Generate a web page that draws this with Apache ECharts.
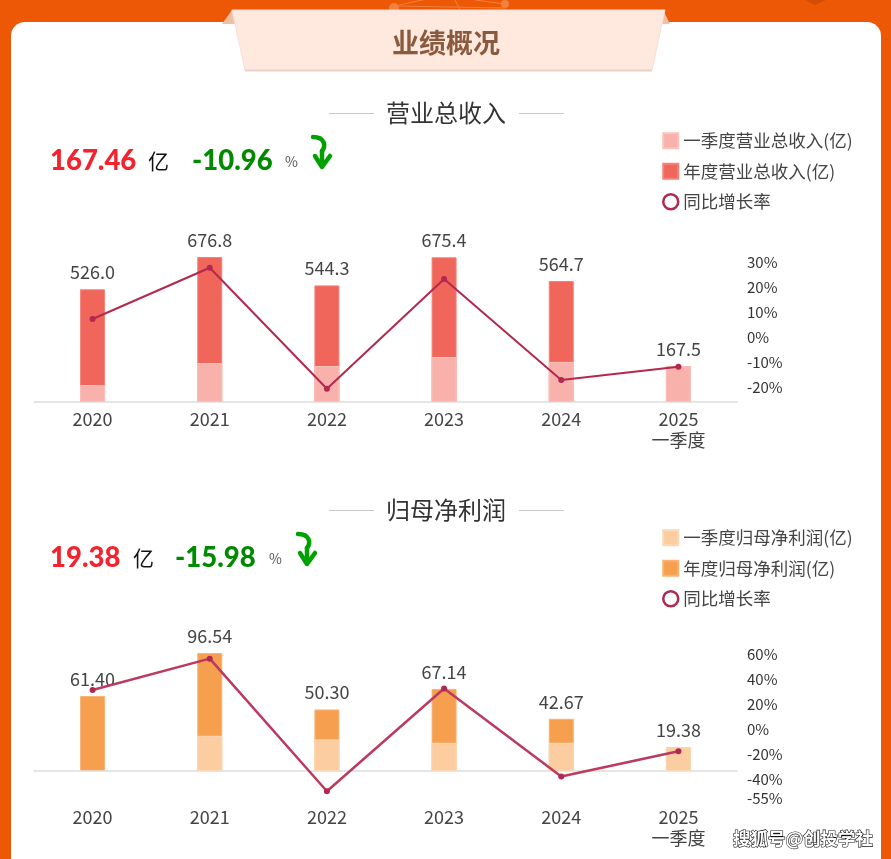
<!DOCTYPE html>
<html><head><meta charset="utf-8">
<style>html,body{margin:0;padding:0;background:#EC5805}#c{width:891px;height:859px}</style>
<script src="https://cdn.jsdelivr.net/npm/echarts@6/dist/echarts.min.js"></script>
</head><body><div id="c"></div>
<script>
const categories = ['2020','2021','2022','2023','2024','2025\n一季度'];
const revAnnual = [526.0,676.8,544.3,675.4,564.7,167.5];
const revQ1 = [79,182,168,210,187,167.5];
const revGrowth = [7.2,27.7,-20.7,23.2,-17.2,-11.9];
const revTicks = [30,20,10,0,-10,-20];
const profitAnnual = [61.40,96.54,50.30,67.14,42.67,19.38];
const profitQ1 = [null,28.7,25.8,23,23,19.38];
const profitGrowth = [31.2,56.3,-49.6,32.5,-37.9,-17.6];
const profitTicks = [60,40,20,0,-20,-40,-55];

const FONT = '"Noto Sans CJK SC","Noto Sans",sans-serif';
const NUM = 'Lato,"Open Sans",sans-serif';
const LINE = '#B2294F';

function text(x,y,t,size,color,opt){
  return {type:'text',x:x,y:y,z:5,style:Object.assign({text:t,fontSize:size,fontFamily:FONT,fill:color,align:'left',verticalAlign:'middle'},opt||{})};
}
function hline(x1,x2,y,c,w){return {type:'line',z:4,shape:{x1:x1,y1:y,x2:x2,y2:y},style:{stroke:c||'#ccc',lineWidth:w||1}};}
function arrow(dx,dy){
  const st={stroke:'#00A000',lineWidth:4.5,fill:'none',lineCap:'round',lineJoin:'round'};
  return [
    {type:'bezierCurve',z:5,shape:{x1:313+dx,y1:137+dy,cpx1:325+dx,cpy1:137+dy,cpx2:326+dx,cpy2:146+dy,x2:322+dx,y2:151+dy},style:st},
    {type:'line',z:5,shape:{x1:322+dx,y1:151+dy,x2:322+dx,y2:166+dy},style:st},
    {type:'polyline',z:5,shape:{points:[[315+dx,156+dy],[322+dx,167+dy],[330+dx,156+dy]]},style:st}
  ];
}
function head(dy,title,big,bigX,unitX,pct,pctX,pctSignX,arrowDx){
  return [
    hline(329,374,113.5+dy,'#C8C8C8'),hline(519,564,113.5+dy,'#C8C8C8'),
    text(446,113+dy,title,24,'#333',{align:'center'}),
    text(bigX,161+dy,big,27.5,'#F5222D',{fontFamily:NUM,fontWeight:900}),
    text(unitX,161+dy,'亿',21,'#111'),
    text(pctX,161+dy,pct,27.5,'#008A00',{fontFamily:NUM,fontWeight:900}),
    text(pctSignX,162+dy,'%',14,'#555')
  ].concat(arrow(arrowDx,dy));
}
const graphics = [
  {type:'group',z:1,children:[
    {type:'line',shape:{x1:395,y1:6,x2:505,y2:8},style:{stroke:'#F2803F',lineWidth:1}},
    {type:'line',shape:{x1:395,y1:6,x2:445,y2:-5},style:{stroke:'#F2803F',lineWidth:1}},
    {type:'line',shape:{x1:455,y1:0,x2:460,y2:10},style:{stroke:'#F2803F',lineWidth:1}},
    {type:'line',shape:{x1:475,y1:0,x2:505,y2:4},style:{stroke:'#F2803F',lineWidth:1}},
    {type:'circle',shape:{cx:394,cy:8,r:5},style:{fill:'#F2803F'}},
    {type:'circle',shape:{cx:505,cy:4,r:4},style:{fill:'#F2803F'}},
    {type:'polygon',shape:{points:[[805,0],[826,0],[815,5]]},style:{fill:'#D24D05'}}
  ]},
  {type:'rect',z:1,shape:{x:11,y:22,width:870,height:900,r:14},style:{fill:'#fff'}},
  {type:'polygon',z:2,shape:{points:[[222,24],[232,10],[240,24]]},style:{fill:'#F0BFA3'}},
  {type:'polygon',z:2,shape:{points:[[657,24],[663,10],[670,24]]},style:{fill:'#F0BFA3'}},
  {type:'polygon',z:2,shape:{points:[[232,10],[665,10],[652,70],[245,70]]},style:{fill:'#FFE8DD',stroke:'#F6E0D6',lineWidth:1}},
  hline(245,652,70.5,'#E8D3C8',2),
  text(446,43,'业绩概况',27,'#8A5A3E',{align:'center',fontWeight:'bold'}),
  text(733,838,'搜狐号@创投学社',17.5,'#fff',{fontWeight:'bold',stroke:'#111',lineWidth:1.2})
].concat(
  head(0,'营业总收入','167.46',50,148,'-10.96',192,285,0),
  head(397,'归母净利润','19.38',50,133,'-15.98',175,269,-15)
);

function xAxis(grid,margin){
  return {type:'category',gridIndex:grid,data:categories,z:3,
    axisLine:{onZero:true,onZeroAxisIndex:grid*2,lineStyle:{color:'#DDD',width:1.5}},
    axisTick:{show:false},
    axisLabel:{fontSize:18,fontFamily:FONT,color:'#444',margin:margin,lineHeight:21,interval:0}};
}
function barY(grid,min,max){
  return {type:'value',gridIndex:grid,min:min,max:max,show:false,splitLine:{show:false}};
}
function rateY(grid,min,max,ticks){
  return {type:'value',gridIndex:grid,position:'right',min:min,max:max,z:3,
    axisLine:{show:false},axisTick:{show:false},splitLine:{show:false},
    axisLabel:{customValues:ticks,fontSize:15,fontFamily:FONT,color:'#333',margin:10,formatter:v=>v+'%'}};
}
function bars(grid,names,annual,q1,colors,digits){
  return [
    {name:names[1],type:'bar',xAxisIndex:grid,yAxisIndex:grid*2,data:annual,barWidth:25,barGap:'-100%',z:2,
      itemStyle:{color:colors[1],borderColor:colors[3],borderWidth:1},
      label:{show:true,position:'top',distance:8,fontSize:18,fontFamily:FONT,color:'#444',formatter:p=>p.value.toFixed(digits)}},
    {name:names[0],type:'bar',xAxisIndex:grid,yAxisIndex:grid*2,data:q1,barWidth:25,barGap:'-100%',z:3,
      itemStyle:{color:colors[0],borderColor:colors[2],borderWidth:1}},
  ];
}
function rate(grid,data,color,w){
  return {name:'同比增长率',type:'line',xAxisIndex:grid,yAxisIndex:grid*2+1,data:data,z:6,
    symbol:'circle',symbolSize:6,lineStyle:{color:color,width:w},itemStyle:{color:LINE}};
}
function legend(top,names){
  return {orient:'vertical',left:657,top:top,itemWidth:15,itemHeight:15,itemGap:13,selectedMode:false,
    textStyle:{fontSize:17.5,fontFamily:FONT,color:'#444',padding:[0,0,0,0]},
    data:[{name:names[0],icon:'rect'},{name:names[1],icon:'rect'},
      {name:'同比增长率',icon:'circle',itemStyle:{color:'#fff',borderColor:LINE,borderWidth:2.5}}]};
}
const revNames = ['一季度营业总收入(亿)','年度营业总收入(亿)'];
const profitNames = ['一季度归母净利润(亿)','年度归母净利润(亿)'];

echarts.init(document.getElementById('c'),null,{renderer:'canvas'}).setOption({
  animation:false,
  backgroundColor:'#EC5805',
  graphic:graphics,
  legend:[legend(127,revNames),legend(524,profitNames)],
  grid:[{left:34,width:703,top:257,height:145,outerBoundsMode:'none'},{left:34,width:703,top:653,height:145,outerBoundsMode:'none'}],
  xAxis:[xAxis(0,7),xAxis(1,9)],
  yAxis:[barY(0,0,676.8),rateY(0,-26,32,revTicks),barY(1,-22.2,96.54),rateY(1,-55,60.8,profitTicks)],
  series:[
    ...bars(0,revNames,revAnnual,revQ1,['#F9B2AB','#F1665B','#FBC2BC','#F48278'],1),
    rate(0,revGrowth,LINE,2),
    ...bars(1,profitNames,profitAnnual,profitQ1,['#FBCDA1','#F6A04F','#FDD8B5','#F9B272'],2),
    rate(1,profitGrowth,'#BC3A60',2.5)
  ]
});
</script></body></html>
